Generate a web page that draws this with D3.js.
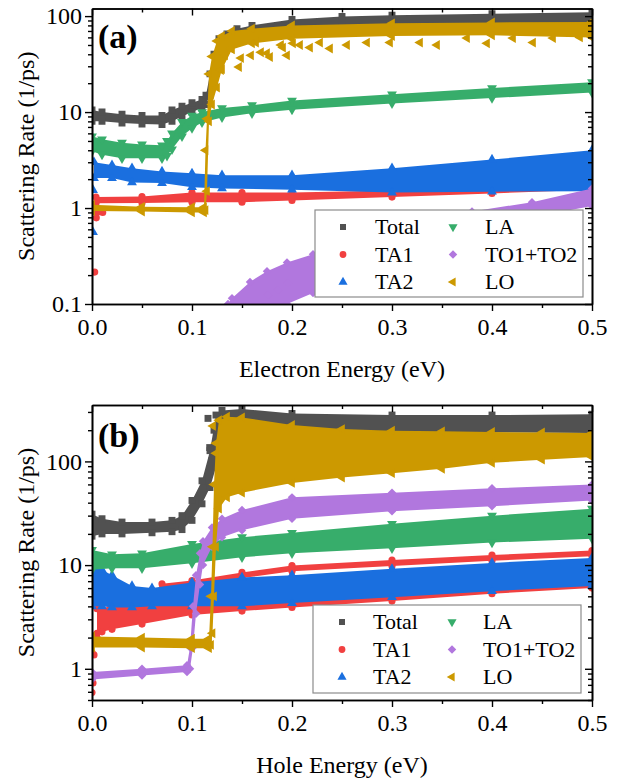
<!DOCTYPE html>
<html><head><meta charset="utf-8">
<script src="https://cdn.jsdelivr.net/npm/d3@7"></script>
</head><body style="margin:0;background:#fff">
<svg id="c" width="628" height="781"></svg>
<script>
// ---------- data ----------
const seriesNames  = ["Total","TA1","TA2","LA","TO1+TO2","LO"];
const seriesColors = ["#515151","#F14040","#1A6FDF","#37AD6B","#B177DE","#CC9900"];
const xTicks  = [0,0.1,0.2,0.3,0.4,0.5];
const xMinor  = [0.05,0.15,0.25,0.35,0.45];
const yTicksA = [0.1,1,10,100];
const yTicksB = [1,10,100];

// Panel (a) electron: bands [energy, low, high]
const aTotal = [[0,8,10.5],[0.01,8,10],[0.03,7.7,9.5],[0.05,7.5,9.2],[0.07,7.4,9.2],[0.08,8,10.5],[0.09,9,11.5],[0.1,10,12.5],[0.11,11,13.5],[0.114,12,15],[0.118,15,25],[0.122,25,40],[0.127,40,58],[0.135,52,65],[0.145,60,74],[0.16,66,80],[0.2,72,92],[0.25,78,99],[0.3,80,102],[0.4,83,106],[0.5,85,110]];
const aTA1 = [[0.004,1.12,1.3],[0.05,1.13,1.32],[0.1,1.15,1.45],[0.15,1.15,1.45],[0.2,1.2,1.45],[0.3,1.3,1.52],[0.4,1.42,1.65],[0.5,1.55,1.75]];
const aTA2 = [[0.002,2.05,3.0],[0.02,2.05,2.8],[0.04,1.85,2.6],[0.07,1.82,2.4],[0.1,1.65,2.3],[0.13,1.6,2.2],[0.2,1.55,2.2],[0.3,1.45,2.6],[0.4,1.48,3.2],[0.5,1.5,4.0]];
const aLA  = [[0,3.9,5.6],[0.01,3.6,5.2],[0.03,3.3,4.8],[0.05,3.3,4.6],[0.07,3.3,4.5],[0.075,3.5,5.0],[0.08,4.1,6.0],[0.09,5.6,7.9],[0.1,6.8,9.2],[0.11,7.8,10],[0.13,8.8,11],[0.16,9.7,11.8],[0.2,10.6,13.2],[0.3,12.3,15.3],[0.4,14,17.8],[0.5,16,20.5]];
const aTO  = [[0.136,0.09,0.1],[0.14,0.09,0.115],[0.158,0.09,0.17],[0.175,0.09,0.22],[0.195,0.1,0.27],[0.221,0.13,0.33],[0.3,0.25,0.55],[0.38,0.55,0.92],[0.44,0.8,1.15],[0.5,1.05,1.6]];
const aLO  = [[0,0.93,1.08],[0.05,0.92,1.03],[0.1,0.9,1.02],[0.112,0.9,1.02],[0.1135,0.95,4],[0.115,1.5,8.5],[0.117,8,25],[0.12,12,38],[0.125,18,55],[0.13,28,62],[0.14,45,70],[0.16,52,74],[0.2,58,80],[0.3,62,84],[0.4,63,86],[0.5,60,87]];
// scattered single points [energy, rate]
const aTA1Pts = [[0.0027,0.215],[0.0043,0.79],[0.005,0.9],[0.0107,0.9]];
const aTA2Pts = [[0.001,1.54],[0.001,0.56]];
const aTOPts  = [[0.176,0.124],[0.196,0.166],[0.186,0.14]];
const aLOPts  = [[0.129,27.4],[0.133,39],[0.139,46],[0.147,29.5],[0.149,36.5],[0.159,39],[0.164,53],[0.169,42],[0.175,41],[0.178,37.5],[0.189,50],[0.191,47],[0.195,39],[0.201,52],[0.208,50],[0.218,47],[0.228,53],[0.238,46],[0.255,50],[0.275,53],[0.298,53],[0.328,53],[0.345,50],[0.375,59],[0.395,52],[0.421,59],[0.441,53],[0.461,59],[0.488,60]];

// Panel (b) hole: bands [energy, low, high]
const bTotal = [[0,19,31],[0.01,20,28],[0.03,20,26],[0.06,20.5,26],[0.08,21,27],[0.09,22,30],[0.1,27,42],[0.11,39,65],[0.118,56,127],[0.124,88,280],[0.13,150,310],[0.15,230,320],[0.2,200,290],[0.3,190,280],[0.4,190,280],[0.5,188,285]];
const bTA1Low = [[0.005,2.2,3.8],[0.02,2.4,4.0],[0.05,2.7,4.2],[0.1,3.3,4.5],[0.15,3.6,4.8],[0.2,3.9,5.0],[0.3,4.5,5.5],[0.4,5.3,6.0],[0.5,6.0,6.6]];
const bTA1Up  = [[0.07,5.9,6.6],[0.1,6.4,7.1],[0.15,7.5,8.5],[0.2,8.7,9.9],[0.3,9.8,11.2],[0.4,11,12.5],[0.5,12.2,13.8]];
const bTA2 = [[0,4,10.5],[0.01,4,9],[0.02,3.9,8],[0.04,3.9,6.3],[0.06,4,6],[0.1,4,6.8],[0.15,4,7.6],[0.2,4.3,8],[0.3,4.9,9.2],[0.4,5.6,10.5],[0.5,6.3,11.7]];
const bLA  = [[0,9,14],[0.02,9.3,12.7],[0.05,9.3,13],[0.1,10.4,16],[0.15,11.9,18.6],[0.2,13,20.5],[0.3,14.5,25],[0.4,16.5,30],[0.5,18,35]];
const bTO  = [[0,0.79,0.93],[0.05,0.86,1.0],[0.095,0.93,1.08],[0.098,1.0,1.6],[0.101,1.6,4],[0.104,3.4,8],[0.108,6.5,13],[0.111,10,17],[0.12,15,23],[0.13,18.6,28],[0.15,21.7,34],[0.2,28,45],[0.3,33,50],[0.4,37,55],[0.5,42,60]];
const bLO  = [[0,1.6,2.05],[0.05,1.6,2.0],[0.1,1.58,1.95],[0.117,1.58,1.95],[0.119,1.7,5],[0.1205,2.2,15],[0.122,5,60],[0.124,15,150],[0.127,35,250],[0.135,45,270],[0.15,50,265],[0.2,62,225],[0.25,70,205],[0.3,77,198],[0.35,85,195],[0.4,97,192],[0.45,104,190],[0.5,110,188]];
const bTotalPts = [[0.116,260],[0.1177,136],[0.12,102],[0.122,200]];
const bTA1Pts   = [[0,1.43],[0,0.59],[0.001,0.73],[0.002,1.36],[0.01,2.27],[0.005,2.0]];
const bLOPts    = [[0.121,220],[0.124,120]];

// ---------- drawing ----------
const FONT = '"Liberation Serif"';
const svg = d3.select("#c");
const symRot = [
  {t:d3.symbolSquare, r:0, s:48},
  {t:d3.symbolCircle, r:0, s:40},
  {t:d3.symbolTriangle, r:0, s:42},
  {t:d3.symbolTriangle, r:180, s:42},
  {t:d3.symbolSquare, r:45, s:36},
  {t:d3.symbolTriangle, r:-90, s:42}
];
function sym(i, size){ return d3.symbol().type(symRot[i].t).size(size||symRot[i].s)(); }
function txt(sel){ return sel.append("text").style("font-family",FONT).attr("fill","#000"); }

const panels = [
  {id:"a", top:8.5, bottom:304, dom:[0.1,120], yt:yTicksA, label:"(a)", labY:48, xtitle:"Electron Energy (eV)", xtY:377,
   series:[[aTotal],[aTA1],[aTA2],[aLA],[aTO],[aLO]],
   pts:[[],aTA1Pts,aTA2Pts,[],aTOPts,aLOPts],
   leg:{x:315,y:210,w:268,h:87,rows:[227,254.5,282],mx:[343,453],tx:[375,485]}},
  {id:"b", top:405, bottom:700, dom:[0.5,350], yt:yTicksB, label:"(b)", labY:447, xtitle:"Hole Energy (eV)", xtY:773,
   series:[[bTotal],[bTA1Low,bTA1Up],[bTA2],[bLA],[bTO],[bLO]],
   pts:[bTotalPts,bTA1Pts,[],[],[],bLOPts],
   leg:{x:313,y:605,w:268,h:88,rows:[622,649.5,677],mx:[342,452],tx:[373,483]}}
];
const L = 92, R = 592;
const x = d3.scaleLinear().domain([0,0.5]).range([L,R]);

panels.forEach(p=>{
  const y = d3.scaleLog().domain(p.dom).range([p.bottom,p.top]);
  const g = svg.append("g");
  const clipId = "clip"+p.id;
  svg.append("clipPath").attr("id",clipId).append("rect")
    .attr("x",L).attr("y",p.top).attr("width",R-L).attr("height",p.bottom-p.top);
  const plot = g.append("g").attr("clip-path",`url(#${clipId})`);
  const area = d3.area().x(d=>x(d[0])).y0(d=>y(d[1])).y1(d=>y(d[2]));
  p.series.forEach((bands,i)=>{
    const sg = plot.append("g").attr("fill",seriesColors[i]);
    bands.forEach(b=>{
      sg.append("path").attr("d",area(b));
      b.forEach(d=>{
        [d[1],d[2]].forEach(v=>{
          sg.append("path").attr("d",sym(i))
            .attr("transform",`translate(${x(d[0])},${y(v)}) rotate(${symRot[i].r})`);
        });
      });
    });
    p.pts[i].forEach(d=>{
      sg.append("path").attr("d",sym(i))
        .attr("transform",`translate(${x(d[0])},${y(d[1])}) rotate(${symRot[i].r})`);
    });
  });

  // y minor ticks
  const yMinor = [];
  for(let e=-2;e<=3;e++) for(let m=2;m<=9;m++){ const v=m*Math.pow(10,e); if(v>=p.dom[0]*0.999 && v<=p.dom[1]) yMinor.push(v); }
  const fmtY = v => v<1 ? String(v) : d3.format("d")(v);
  const axes = [
    [d3.axisBottom(x).tickValues(xTicks).tickSize(7).tickPadding(7).tickFormat(d3.format(".1f")), `translate(0,${p.bottom})`],
    [d3.axisBottom(x).tickValues(xMinor).tickSize(4).tickFormat(""), `translate(0,${p.bottom})`],
    [d3.axisTop(x).tickValues(xTicks).tickSize(-7).tickFormat(""), `translate(0,${p.top})`],
    [d3.axisTop(x).tickValues(xMinor).tickSize(-4).tickFormat(""), `translate(0,${p.top})`],
    [d3.axisLeft(y).tickValues(p.yt).tickSize(7).tickPadding(3).tickFormat(fmtY), `translate(${L},0)`],
    [d3.axisLeft(y).tickValues(yMinor).tickSize(4).tickFormat(""), `translate(${L},0)`],
    [d3.axisRight(y).tickValues(p.yt).tickSize(-7).tickFormat(""), `translate(${R},0)`],
    [d3.axisRight(y).tickValues(yMinor).tickSize(-4).tickFormat(""), `translate(${R},0)`]
  ];
  axes.forEach(([ax,tr])=>{
    const a = g.append("g").attr("transform",tr).call(ax.tickSizeOuter(0));
    a.select(".domain").attr("stroke","#000").attr("stroke-width",1.6);
    a.selectAll(".tick line").attr("stroke","#000").attr("stroke-width",1.4);
    a.selectAll(".tick text").style("font-family",FONT).attr("font-size",24).attr("fill","#000");
  });

  // panel label
  txt(g).attr("x",98).attr("y",p.labY).attr("font-size",34).attr("font-weight","bold").text(p.label);
  // axis titles
  txt(g).attr("x",(L+R)/2).attr("y",p.xtY).attr("text-anchor","middle").attr("font-size",24).text(p.xtitle);
  txt(g).attr("transform",`translate(34,${(p.top+p.bottom)/2}) rotate(-90)`)
    .attr("text-anchor","middle").attr("font-size",24).text("Scattering Rate (1/ps)");

  // legend
  const lg = p.leg;
  g.append("rect").attr("x",lg.x).attr("y",lg.y).attr("width",lg.w).attr("height",lg.h)
    .attr("fill","#fff").attr("stroke","#8c8c8c").attr("stroke-width",1.2);
  seriesNames.forEach((n,i)=>{
    const col = i<3?0:1, row = i%3;
    g.append("path").attr("d",sym(i,36)).attr("fill",seriesColors[i])
      .attr("transform",`translate(${lg.mx[col]},${lg.rows[row]}) rotate(${symRot[i].r})`);
    txt(g).attr("x",lg.tx[col]).attr("y",lg.rows[row]).attr("dy","0.34em")
      .attr("font-size",22).text(n);
  });
});
</script>
</body></html>
